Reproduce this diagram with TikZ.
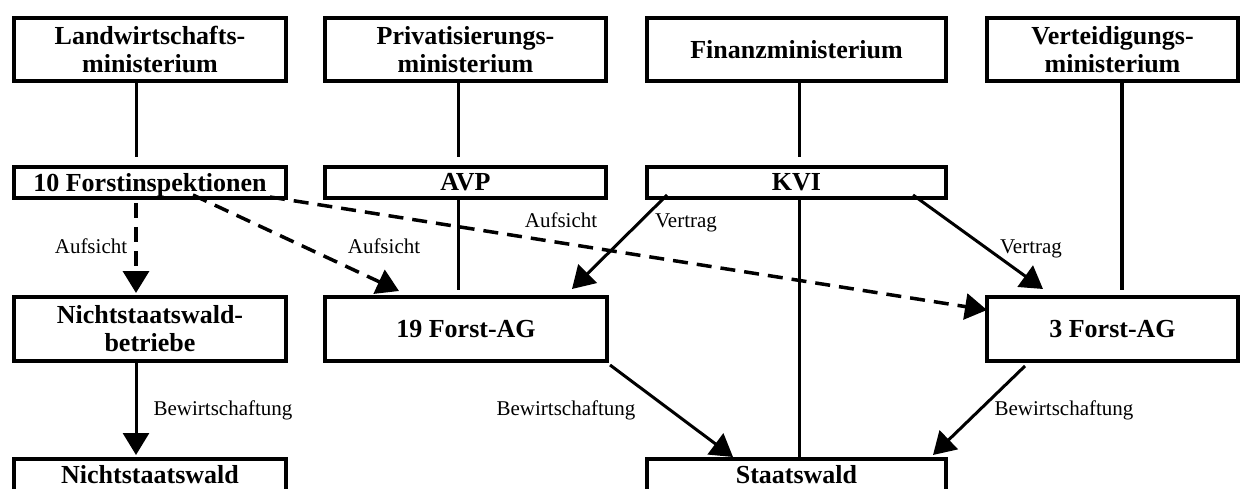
\documentclass[tikz,border=0pt]{standalone}
\usepackage{fontspec}
\setmainfont{Liberation Serif}
\usetikzlibrary{arrows.meta}
\begin{document}
\begin{tikzpicture}[x=1pt,y=-1pt,
  box/.style={draw, line width=4pt, rectangle, inner sep=0pt, align=center,
    font=\bfseries\fontsize{26}{28}\selectfont},
  conn/.style={line width=3pt},
  arr/.style={line width=3pt, -{Triangle[length=22pt,width=26pt]}},
  dsh/.style={line width=3.5pt, dash pattern=on 15pt off 9pt, -{Triangle[length=22pt,width=26pt]}},
  lbl/.style={font=\fontsize{21}{24}\selectfont, anchor=base, inner sep=0pt}]
\useasboundingbox (0,0) rectangle (1242,489);
\clip (0,0) rectangle (1242,489);
\fill[white] (0,0) rectangle (1242,489);

% row 1
\node[box, minimum width=272pt, minimum height=63pt] (land) at (150,49.5) {Landwirtschafts-\\ministerium};
\node[box, minimum width=281pt, minimum height=63pt] (priv) at (465.5,49.5) {Privatisierungs-\\ministerium};
\node[box, minimum width=299pt, minimum height=63pt] (fin) at (796.5,49.5) {Finanzministerium};
\node[box, minimum width=251pt, minimum height=63pt] (vert) at (1112.5,49.5) {Verteidigungs-\\ministerium};
% row 2
\node[box, minimum width=272pt, minimum height=31pt, text depth=0pt] (fi) at (150,182.5) {10 Forstinspektionen};
\node[box, minimum width=281pt, minimum height=31pt] (avp) at (465.5,182.5) {AVP};
\node[box, minimum width=299pt, minimum height=31pt] (kvi) at (796.5,182.5) {KVI};
% row 3
\node[box, minimum width=272pt, minimum height=64pt] (nswb) at (150,329) {Nichtstaatswald-\\betriebe};
\node[box, minimum width=282pt, minimum height=64pt] (ag19) at (466,329) {19 Forst-AG};
\node[box, minimum width=251pt, minimum height=64pt] (ag3) at (1112.5,329) {3 Forst-AG};
% row 4
\node[box, minimum width=272pt, minimum height=32pt] (nsw) at (150,475) {Nichtstaatswald};
\node[box, minimum width=299pt, minimum height=32pt] (sw) at (796.5,475) {Staatswald};

% x positions of vertical connectors
\coordinate (cL) at (136,0);
\coordinate (cP) at (458,0);
\coordinate (cF) at (799,0);
\coordinate (cV) at (1122,0);

% vertical plain lines
\draw[conn, shorten >=8pt] (land.south -| cL) -- (fi.north -| cL);
\draw[conn, shorten >=8pt] (priv.south -| cP) -- (avp.north -| cP);
\draw[conn, shorten >=8pt] (fin.south -| cF) -- (kvi.north -| cF);
\draw[line width=4pt, shorten >=5pt] (vert.south -| cV) -- (ag3.north -| cV);
\draw[conn, shorten <=-3pt, shorten >=5pt] (avp.south -| cP) -- (ag19.north -| cP);
\draw[conn] (kvi.south -| cF) -- (sw.north -| cF);

% Aufsicht (dashed)
\draw[dsh, shorten <=3pt, shorten >=2pt] (fi.south -| cL) -- (nswb.north -| cL);
\coordinate (d1s) at (193,195);
\coordinate (d1e) at (399,291);
\draw[dsh] (d1s) -- (d1e);
\coordinate (d2s) at (270,197);
\coordinate (d2e) at (987,310);
\draw[dsh] (d2s) -- (d2e);

% Vertrag
\coordinate (v1s) at (667,195);
\coordinate (v1e) at (572,289);
\draw[arr] (v1s) -- (v1e);
\coordinate (v2s) at (913,195);
\coordinate (v2e) at (1043,289);
\draw[arr] (v2s) -- (v2e);

% Bewirtschaftung
\draw[arr, shorten >=2pt] (nswb.south -| cL) -- (nsw.north -| cL);
\coordinate (b1s) at (610,365);
\coordinate (b1e) at (733,457);
\draw[arr] (b1s) -- (b1e);
\coordinate (b2s) at (1025,366);
\coordinate (b2e) at (933,455);
\draw[arr] (b2s) -- (b2e);

% labels
\node[lbl] (l1) at (91,254) {Aufsicht};
\node[lbl] (l2) at (384,254) {Aufsicht};
\node[lbl] (l3) at (561,228) {Aufsicht};
\node[lbl] (l4) at (686,228) {Vertrag};
\node[lbl] (l5) at (1031,253) {Vertrag};
\node[lbl] (l6) at (223,415) {Bewirtschaftung};
\node[lbl] (l7) at (566,415) {Bewirtschaftung};
\node[lbl] (l8) at (1064,415) {Bewirtschaftung};
\end{tikzpicture}
\end{document}
